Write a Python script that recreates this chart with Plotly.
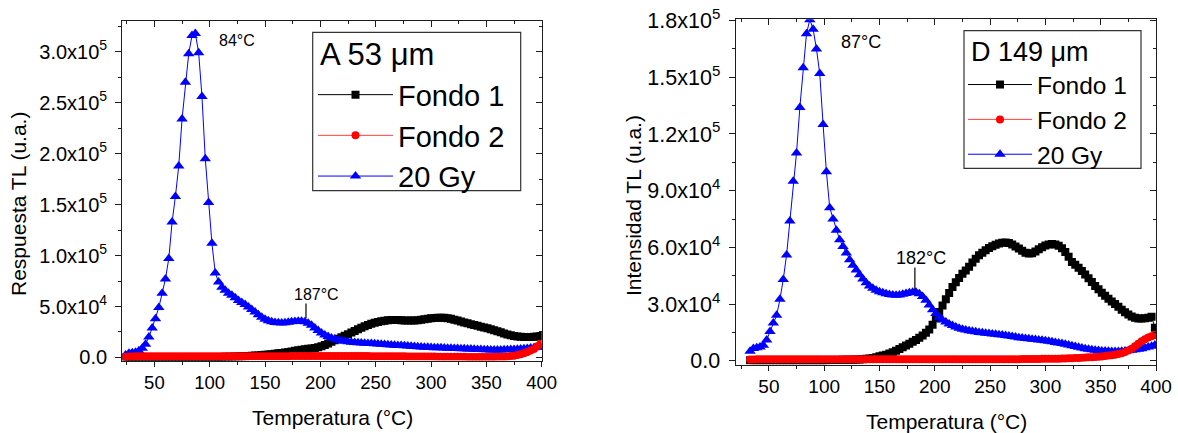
import numpy as np
import plotly.graph_objects as go

# Temperature grids (°C) of the glow-curve readings
TEMP_A = np.arange(24, 400, 3)   # sample A 53 µm: 24 ... 399
TEMP_D = np.arange(33, 400, 3)   # sample D 149 µm: 33 ... 399

SCALE = 1e3  # readings below are given in 10^3 u.a.

# ---- Sample A 53 µm -------------------------------------------------------
FONDO1_A = [
    0.2, 0.2, 0.2, 0.2, 0.2, 0.2, 0.2, 0.2, 0.2, 0.2,
    0.2, 0.2, 0.2, 0.2, 0.2, 0.2, 0.2, 0.2, 0.2, 0.2,
    0.3, 0.3, 0.3, 0.3, 0.3, 0.3, 0.4, 0.4, 0.5, 0.5,
    0.6, 0.7, 0.8, 0.9, 1.0, 1.1, 1.2, 1.4, 1.6, 1.8,
    2.0, 2.3, 2.6, 2.9, 3.2, 3.6, 4.0, 4.4, 4.9, 5.4,
    5.9, 6.5, 7.1, 7.6, 8.1, 8.5, 8.9, 9.3, 10.0, 11.0,
    12.3, 13.8, 15.3, 16.8, 18.3, 19.8, 21.3, 22.8, 24.4, 26.0,
    27.6, 29.1, 30.5, 31.8, 33.0, 34.0, 34.8, 35.5, 36.0, 36.6,
    36.8, 36.8, 36.7, 36.5, 36.3, 36.2, 36.2, 36.3, 36.6, 37.0,
    37.5, 38.0, 38.4, 38.7, 38.9, 39.0, 38.9, 38.5, 37.9, 37.1,
    36.2, 35.3, 34.4, 33.5, 32.6, 31.8, 31.0, 30.2, 29.4, 28.6,
    27.7, 26.8, 25.8, 24.7, 23.6, 22.6, 21.7, 21.0, 20.5, 20.2,
    20.0, 20.0, 20.0, 20.2, 20.6, 21.0,
]
FONDO2_A = [
    0.6, 0.9, 1.0, 1.1, 1.1, 1.2, 1.2, 1.2, 1.2, 1.2,
    1.2, 1.2, 1.2, 1.2, 1.2, 1.2, 1.2, 1.2, 1.2, 1.2,
    1.2, 1.2, 1.2, 1.2, 1.2, 1.2, 1.2, 1.2, 1.2, 1.2,
    1.2, 1.2, 1.2, 1.2, 1.2, 1.2, 1.2, 1.2, 1.2, 1.2,
    1.2, 1.2, 1.2, 1.2, 1.2, 1.2, 1.2, 1.2, 1.2, 1.2,
    1.3, 1.3, 1.3, 1.3, 1.3, 1.3, 1.3, 1.3, 1.3, 1.3,
    1.3, 1.3, 1.3, 1.3, 1.3, 1.3, 1.3, 1.3, 1.3, 1.3,
    1.3, 1.3, 1.3, 1.3, 1.2, 1.2, 1.2, 1.2, 1.2, 1.2,
    1.1, 1.1, 1.1, 1.1, 1.1, 1.0, 1.0, 1.0, 1.0, 1.0,
    1.0, 0.9, 0.9, 0.9, 0.8, 0.8, 0.8, 0.7, 0.7, 0.7,
    0.6, 0.6, 0.6, 0.5, 0.5, 0.5, 0.5, 0.5, 0.5, 0.5,
    0.5, 0.5, 0.6, 0.7, 0.8, 1.0, 1.3, 1.7, 2.3, 3.1,
    4.1, 5.3, 6.7, 8.3, 11.0, 13.5,
]
GY20_A = [
    2.5, 4.0, 4.5, 5.0, 6.5, 9.0, 13.0, 20.0, 29.0, 38.0,
    49.0, 63.0, 77.0, 97.0, 133.0, 158.0, 188.0, 234.0, 270.0, 298.0,
    316.0, 318.0, 299.0, 256.0, 195.0, 152.0, 112.0, 83.0, 74.0, 69.0,
    66.0, 63.0, 61.0, 58.5, 56.0, 54.0, 52.0, 49.5, 47.0, 44.5,
    42.0, 39.5, 37.5, 36.0, 35.0, 34.3, 34.0, 33.8, 34.0, 34.5,
    35.0, 35.3, 35.5, 35.5, 35.0, 33.5, 31.5, 29.0, 26.5, 24.0,
    22.0, 20.5, 19.0, 18.0, 17.0, 16.3, 15.8, 15.3, 15.0, 14.7,
    14.5, 14.2, 14.0, 13.8, 13.6, 13.4, 13.1, 12.9, 12.7, 12.5,
    12.2, 12.0, 11.8, 11.6, 11.4, 11.2, 10.9, 10.7, 10.5, 10.3,
    10.1, 9.9, 9.8, 9.6, 9.5, 9.4, 9.3, 9.1, 9.0, 8.9,
    8.7, 8.6, 8.5, 8.3, 8.2, 8.0, 7.9, 7.8, 7.6, 7.5,
    7.4, 7.4, 7.4, 7.4, 7.5, 7.6, 7.7, 7.9, 8.1, 8.3,
    8.6, 8.9, 9.2, 9.5, 9.8, 10.1,
]

# ---- Sample D 149 µm ------------------------------------------------------
FONDO1_D = [
    0.3, 0.3, 0.3, 0.3, 0.3, 0.3, 0.3, 0.3, 0.3, 0.3,
    0.3, 0.3, 0.3, 0.3, 0.3, 0.3, 0.3, 0.3, 0.3, 0.3,
    0.3, 0.3, 0.3, 0.3, 0.4, 0.4, 0.4, 0.4, 0.5, 0.5,
    0.5, 0.5, 0.6, 0.6, 0.8, 1.0, 1.2, 1.5, 1.9, 2.4,
    2.7, 3.2, 3.8, 4.5, 5.3, 6.2, 7.1, 8.0, 9.0, 10.0,
    11.0, 12.1, 13.4, 14.8, 16.5, 19.0, 22.5, 25.8, 29.2, 32.5,
    35.8, 39.0, 41.5, 43.8, 46.0, 47.8, 49.8, 52.0, 54.0, 55.8,
    57.2, 58.5, 59.7, 60.6, 61.4, 62.0, 62.4, 62.6, 62.3, 61.5,
    60.5, 59.4, 58.2, 57.2, 56.7, 56.9, 57.8, 59.0, 60.1, 61.0,
    61.5, 61.8, 61.5, 60.8, 59.5, 57.5, 55.0, 52.3, 50.8, 49.2,
    47.5, 45.6, 43.6, 41.6, 39.6, 37.8, 36.0, 34.4, 32.8, 31.4,
    30.0, 28.5, 27.0, 25.6, 24.4, 23.4, 22.7, 22.4, 22.4, 22.5,
    22.8, 23.3, 17.5,
]
FONDO2_D = [
    0.6, 0.7, 0.8, 0.8, 0.8, 0.8, 0.8, 0.8, 0.8, 0.8,
    0.8, 0.8, 0.8, 0.8, 0.8, 0.8, 0.8, 0.8, 0.8, 0.8,
    0.8, 0.8, 0.8, 0.8, 0.8, 0.8, 0.8, 0.8, 0.8, 0.8,
    0.8, 0.8, 0.8, 0.8, 0.8, 0.8, 0.8, 0.8, 0.8, 0.8,
    0.8, 0.8, 0.8, 0.8, 0.8, 0.8, 0.8, 0.8, 0.8, 0.8,
    0.8, 0.8, 0.8, 0.8, 0.8, 0.8, 0.8, 0.8, 0.8, 0.8,
    0.8, 0.8, 0.8, 0.8, 0.8, 0.8, 0.8, 0.8, 0.8, 0.8,
    0.8, 0.8, 0.8, 0.8, 0.8, 0.8, 0.8, 0.8, 0.8, 0.8,
    0.8, 0.8, 0.9, 0.9, 0.9, 0.9, 0.9, 0.9, 1.0, 1.0,
    1.0, 1.0, 1.1, 1.1, 1.2, 1.2, 1.3, 1.3, 1.4, 1.5,
    1.6, 1.7, 1.8, 1.9, 2.0, 2.1, 2.3, 2.5, 2.7, 2.9,
    3.2, 3.6, 4.0, 4.6, 5.4, 6.4, 7.6, 9.0, 10.3, 11.4,
    12.3, 13.0, 13.6,
]
GY20_D = [
    5.0, 6.5, 6.8, 7.2, 8.2, 11.0, 15.4, 20.0, 24.0, 32.5,
    43.0, 56.0, 74.0, 95.0, 110.0, 134.0, 155.0, 173.0, 180.5, 175.5,
    165.0, 152.0, 125.0, 100.0, 81.0, 75.0, 69.0, 64.0, 60.5, 57.0,
    53.5, 50.5, 48.0, 45.5, 43.3, 41.3, 39.6, 38.3, 37.3, 36.5,
    36.0, 35.5, 35.1, 34.8, 34.7, 34.8, 35.2, 35.6, 36.0, 36.3,
    36.3, 35.5, 34.0, 32.0, 29.5, 27.0, 25.0, 23.0, 21.5, 20.5,
    19.5, 18.6, 17.8, 17.2, 16.7, 16.3, 15.9, 15.6, 15.3, 15.0,
    14.8, 14.6, 14.4, 14.2, 14.0, 13.8, 13.6, 13.4, 13.1, 12.8,
    12.5, 12.2, 12.0, 11.8, 11.6, 11.4, 11.2, 11.0, 10.8, 10.6,
    10.3, 10.0, 9.7, 9.4, 9.1, 8.7, 8.3, 7.9, 7.5, 7.1,
    6.7, 6.4, 6.1, 5.8, 5.6, 5.4, 5.2, 5.1, 5.0, 4.9,
    4.9, 4.9, 5.0, 5.1, 5.3, 5.5, 5.8, 6.1, 6.4, 6.8,
    7.2, 7.7, 8.3,
]

# Peak temperatures labelled on each glow curve (°C)
PEAKS_A = [84, 187]
PEAKS_D = [87, 182]

# Tick labels
X_TICKS = [50, 100, 150, 200, 250, 300, 350, 400]
Y_TICKS_A = [0, 5e4, 1e5, 1.5e5, 2e5, 2.5e5, 3e5]
Y_TEXT_A = ["0.0", "5.0x10<sup>4</sup>", "1.0x10<sup>5</sup>", "1.5x10<sup>5</sup>",
            "2.0x10<sup>5</sup>", "2.5x10<sup>5</sup>", "3.0x10<sup>5</sup>"]
Y_TICKS_D = [0, 3e4, 6e4, 9e4, 1.2e5, 1.5e5, 1.8e5]
Y_TEXT_D = ["0.0", "3.0x10<sup>4</sup>", "6.0x10<sup>4</sup>", "9.0x10<sup>4</sup>",
            "1.2x10<sup>5</sup>", "1.5x10<sup>5</sup>", "1.8x10<sup>5</sup>"]

FONT = "Liberation Sans, Arial, sans-serif"
AXIS_COLOR = "#1e1e1e"
W, H = 1178, 433

STYLES = {
    "Fondo 1": dict(color="#000000", line="#000000", symbol="square", size=8, rank=1),
    "Fondo 2": dict(color="#ff0000", line="#ff4040", symbol="circle", size=8, rank=2),
    "20 Gy": dict(color="#0000ff", line="#0000ff", symbol="triangle-up", size=10, rank=3),
}

fig = go.Figure()


def add_curves(temp, series, xa, ya, legend):
    # black first, blue next, red drawn on top
    for name in ["Fondo 1", "20 Gy", "Fondo 2"]:
        st = STYLES[name]
        fig.add_trace(go.Scatter(
            x=temp, y=np.array(series[name]) * SCALE, name=name,
            mode="lines+markers", xaxis=xa, yaxis=ya, legend=legend,
            legendrank=st["rank"],
            line=dict(color=st["line"], width=1),
            marker=dict(color=st["color"], symbol=st["symbol"], size=st["size"],
                        line=dict(width=0)),
            hoverinfo="skip",
        ))


add_curves(TEMP_A, {"Fondo 1": FONDO1_A, "Fondo 2": FONDO2_A, "20 Gy": GY20_A},
           "x", "y", "legend")
add_curves(TEMP_D, {"Fondo 1": FONDO1_D, "Fondo 2": FONDO2_D, "20 Gy": GY20_D},
           "x2", "y2", "legend2")

# empty traces so the mirrored frame axes (inward ticks) are rendered
for xa, ya in [("x3", "y"), ("x", "y3"), ("x4", "y2"), ("x2", "y4")]:
    fig.add_trace(go.Scatter(x=[None], y=[None], xaxis=xa, yaxis=ya,
                             showlegend=False, hoverinfo="skip"))

X_RANGE_A = [21, 400]
X_RANGE_D = [20, 400]
Y_RANGE_A = [-3000, 330500]
Y_RANGE_D = [-2000, 180700]
DOM_XA = [122.3 / W, 541.7 / W]
DOM_XD = [735.7 / W, 1156.0 / W]
DOM_YA = [1 - 360.5 / H, 1 - 20.7 / H]
DOM_YD = [1 - 364.5 / H, 1 - 19.3 / H]

COMMON = dict(showgrid=False, zeroline=False, automargin=False,
              showline=True, linecolor=AXIS_COLOR, linewidth=1.3,
              tickwidth=1.3, tickcolor=AXIS_COLOR)


def x_axis(dom, rng, anchor, size):
    return dict(domain=dom, range=rng, anchor=anchor, **COMMON,
                ticks="outside", ticklen=5,
                tickmode="array", tickvals=X_TICKS,
                tickfont=dict(size=size, family=FONT, color="black"),
                minor=dict(tickmode="linear", tick0=0, dtick=25, ticks="outside",
                           ticklen=3, tickwidth=1.2, tickcolor=AXIS_COLOR))


def y_axis(dom, rng, anchor, vals, text, minor_step, size):
    return dict(domain=dom, range=rng, anchor=anchor, **COMMON,
                ticks="outside", ticklen=6,
                tickmode="array", tickvals=vals, ticktext=text, ticklabelstandoff=4,
                tickfont=dict(size=size, family=FONT, color="black"),
                minor=dict(tickmode="linear", tick0=0, dtick=minor_step, ticks="outside",
                           ticklen=3, tickwidth=1.2, tickcolor=AXIS_COLOR))


def top_axis(over, rng, anchor):
    return dict(overlaying=over, side="top", anchor=anchor, range=rng, **COMMON,
                showticklabels=False, ticks="inside", ticklen=6,
                tickmode="array", tickvals=X_TICKS,
                minor=dict(tickmode="linear", tick0=0, dtick=25, ticks="inside",
                           ticklen=3, tickwidth=1.2, tickcolor=AXIS_COLOR))


def right_axis(over, rng, anchor, vals, minor_step):
    return dict(overlaying=over, side="right", anchor=anchor, range=rng, **COMMON,
                showticklabels=False, ticks="inside", ticklen=6,
                tickmode="array", tickvals=vals,
                minor=dict(tickmode="linear", tick0=0, dtick=minor_step, ticks="inside",
                           ticklen=3, tickwidth=1.2, tickcolor=AXIS_COLOR))


def legend_entries(left, top, size, itemwidth):
    # entries only; the frame and the sample title are drawn separately
    return dict(x=left / W, y=1 - top / H, xanchor="left", yanchor="top",
                bgcolor="rgba(255,255,255,0)", borderwidth=0, traceorder="normal",
                itemwidth=itemwidth, tracegroupgap=0,
                font=dict(size=size, family=FONT, color="black"))


annotations = []
shapes = []


def legend_frame(box, title, title_y, size):
    x0, y0, x1, y1 = box
    shapes.append(dict(type="rect", xref="paper", yref="paper",
                       x0=x0 / W, x1=x1 / W, y0=1 - y1 / H, y1=1 - y0 / H,
                       line=dict(color="#333333", width=1.2), fillcolor="white",
                       layer="below"))
    annotations.append(dict(x=(x0 + 5) / W, y=1 - title_y / H, xref="paper", yref="paper",
                            text=title, showarrow=False, xanchor="left", yanchor="middle",
                            font=dict(size=size, family=FONT, color="black")))


def peak_labels(temp, curve, peaks, xa, ya, size, main_shift, shoulder):
    curve = np.array(curve) * SCALE
    t_main, t_sh = peaks
    # label next to the main peak
    annotations.append(dict(
        x=t_main, y=curve.max(), xref=xa, yref=ya, text=f"{t_main}°C",
        showarrow=False, xanchor="left", yanchor="middle",
        xshift=main_shift[0], yshift=main_shift[1],
        font=dict(size=size, family=FONT, color="black")))
    # pointer and label on the high-temperature shoulder
    v = curve[np.argmin(np.abs(temp - t_sh))]
    y0 = v + shoulder[0]
    y1 = v + shoulder[1]
    shapes.append(dict(type="line", xref=xa, yref=ya, x0=t_sh, x1=t_sh, y0=y0, y1=y1,
                       line=dict(color="black", width=1.2)))
    annotations.append(dict(
        x=t_sh, y=y1, xref=xa, yref=ya, text=f"{t_sh}°C", showarrow=False,
        xanchor="center", yanchor="bottom", xshift=shoulder[2], yshift=shoulder[3],
        font=dict(size=size, family=FONT, color="black")))


peak_labels(TEMP_A, GY20_A, PEAKS_A, "x", "y", 16, (25, -7), (3600, 18000, 11, -2))
peak_labels(TEMP_D, GY20_D, PEAKS_D, "x2", "y2", 18, (29, -22), (1300, 13000, 6, -2))

legend_frame((312.7, 32.3, 520.7, 190.7), "A 53 μm", 55, 31)
legend_frame((964.0, 30.7, 1141.0, 168.3), "D 149 μm", 51.7, 27)

# axis titles
TITLE_SIZE = 21
for text, x, y, ang in [
    ("Temperatura (°C)", 332, 417, 0),
    ("Temperatura (°C)", 946.6, 421, 0),
    ("Respuesta TL (u.a.)", 18, 204, -90),
    ("Intensidad TL (u.a.)", 634, 206, -90),
]:
    annotations.append(dict(x=x / W, y=1 - y / H, xref="paper", yref="paper", text=text,
                            showarrow=False, xanchor="center", yanchor="middle",
                            textangle=ang,
                            font=dict(size=TITLE_SIZE, family=FONT, color="black")))

fig.update_layout(
    width=W, height=H, autosize=False,
    margin=dict(l=0, r=0, t=0, b=0, pad=0, autoexpand=False),
    paper_bgcolor="white", plot_bgcolor="white",
    font=dict(family=FONT, color="black"),
    xaxis=x_axis(DOM_XA, X_RANGE_A, "y", 18.5),
    yaxis=y_axis(DOM_YA, Y_RANGE_A, "x", Y_TICKS_A, Y_TEXT_A, 25000, 20),
    xaxis2=x_axis(DOM_XD, X_RANGE_D, "y2", 19),
    yaxis2=y_axis(DOM_YD, Y_RANGE_D, "x2", Y_TICKS_D, Y_TEXT_D, 15000, 21.5),
    xaxis3=top_axis("x", X_RANGE_A, "y"),
    yaxis3=right_axis("y", Y_RANGE_A, "x", Y_TICKS_A, 25000),
    xaxis4=top_axis("x2", X_RANGE_D, "y2"),
    yaxis4=right_axis("y2", Y_RANGE_D, "x2", Y_TICKS_D, 15000),
    legend=legend_entries(313, 69.3, 29, 75),
    legend2=legend_entries(963, 62.1, 24.5, 64),
    annotations=annotations,
    shapes=shapes,
    showlegend=True,
)

# page without the default body margin so the figure fills the window exactly
PAGE_CSS = ("document.body.style.margin='0';document.body.style.padding='0';"
            "document.documentElement.style.overflow='hidden';")
fig.write_html("out.html", post_script=PAGE_CSS)
